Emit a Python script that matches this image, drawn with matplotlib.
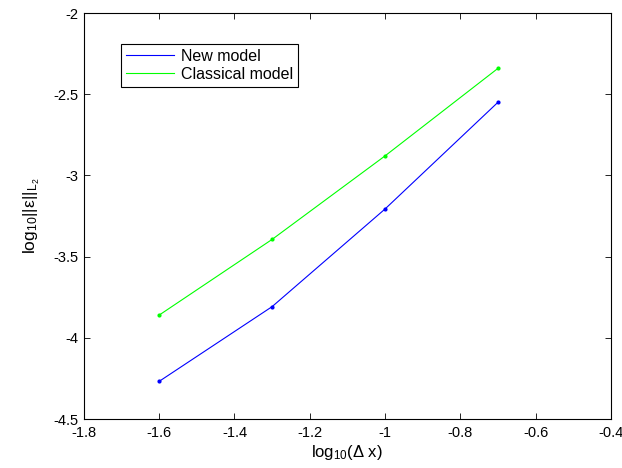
import matplotlib
matplotlib.use('Agg')
import matplotlib.pyplot as plt

plt.rcParams['font.family'] = ['Liberation Sans', 'DejaVu Sans']
plt.rcParams['mathtext.fontset'] = 'custom'
plt.rcParams['mathtext.rm'] = 'Liberation Sans'
plt.rcParams['mathtext.it'] = 'Liberation Sans:italic'
plt.rcParams['mathtext.default'] = 'regular'

# log10 of grid spacing
dx_log = [-1.6, -1.3, -1.0, -0.7]
# log10 of L2 error
new_model = [-4.268, -3.808, -3.207, -2.55]
classical_model = [-3.86, -3.394, -2.88, -2.341]

x_ticks = [-1.8, -1.6, -1.4, -1.2, -1.0, -0.8, -0.6, -0.4]
x_tick_labels = ['-1.8', '-1.6', '-1.4', '-1.2', '-1', '-0.8', '-0.6', '-0.4']
y_ticks = [-4.5, -4, -3.5, -3, -2.5, -2]
y_tick_labels = ['-4.5', '-4', '-3.5', '-3', '-2.5', '-2']

fig = plt.figure(figsize=(6.22, 4.68), dpi=100)
ax = fig.add_axes([0.135, 0.1047, 0.847, 0.8675])

ax.plot(dx_log, new_model, color='#0000ff', lw=0.8, marker='.', ms=4, label='New model')
ax.plot(dx_log, classical_model, color='#00ff00', lw=0.8, marker='.', ms=4, label='Classical model')

ax.set_xlim(-1.8, -0.4)
ax.set_ylim(-4.5, -2)
ax.set_xticks(x_ticks)
ax.set_xticklabels(x_tick_labels)
ax.set_yticks(y_ticks)
ax.set_yticklabels(y_tick_labels)
ax.tick_params(direction='in', length=4, width=0.6, labelsize=10.5, top=True, right=True)
ax.tick_params(axis='x', pad=5)
ax.tick_params(axis='y', pad=4)
for sp in ax.spines.values():
    sp.set_linewidth(0.8)

ax.set_xlabel(r'log$_{10}$($\Delta$ x)', fontsize=12, labelpad=2)
ax.set_ylabel(r'log$_{10}$||$\varepsilon$||$_{L_2}$', fontsize=12.5, labelpad=8)

leg = ax.legend(loc='upper left', bbox_to_anchor=(0.070, 0.924), borderaxespad=0,
                fontsize=11.5, handlelength=3.0, handletextpad=0.45, labelspacing=0.2,
                borderpad=0.3, fancybox=False, framealpha=1, edgecolor='black')
leg.get_frame().set_linewidth(0.8)
for h in leg.legend_handles:
    h.set_marker('')

fig.savefig('out.png', dpi=100)
